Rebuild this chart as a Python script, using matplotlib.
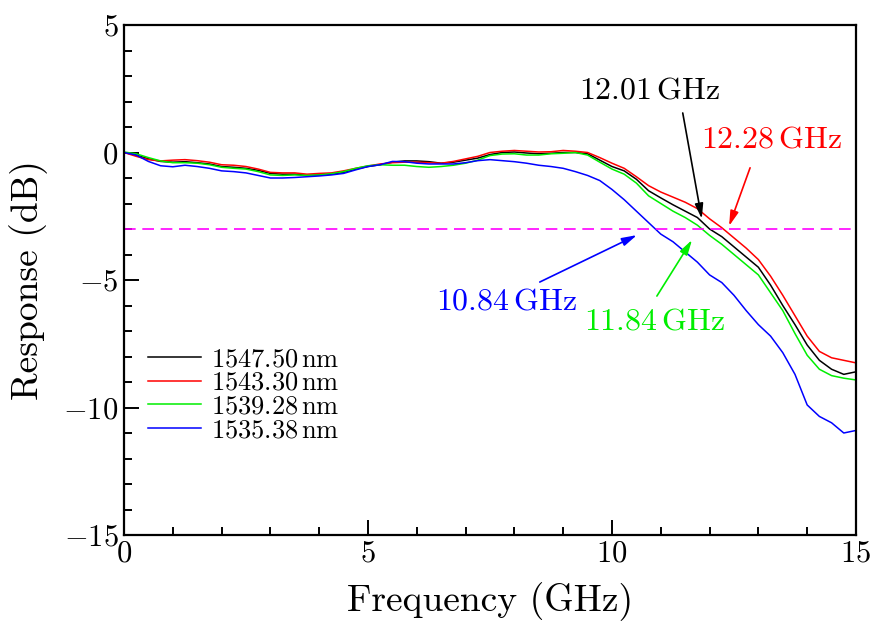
import numpy as np
import matplotlib
matplotlib.use("Agg")
from matplotlib import pyplot as plt
from matplotlib.ticker import MultipleLocator

plt.rcParams['font.family'] = 'serif'
plt.rcParams['font.serif'] = ['cmr10']
plt.rcParams['mathtext.fontset'] = 'cm'
plt.rcParams['axes.formatter.use_mathtext'] = True

# frequency grid (GHz)
freq = np.arange(0, 15.01, 0.25)

resp_1547 = [0.0, -0.1, -0.25, -0.35, -0.38, -0.36, -0.4, -0.45, -0.55, -0.58,
             -0.62, -0.7, -0.82, -0.85, -0.85, -0.9, -0.88, -0.85, -0.78, -0.65,
             -0.55, -0.48, -0.38, -0.33, -0.33, -0.36, -0.42, -0.38, -0.3, -0.22,
             -0.08, 0.0, 0.02, -0.02, -0.05, -0.03, 0.0, 0.0, -0.05, -0.3,
             -0.55, -0.72, -1.05, -1.5, -1.78, -2.05, -2.3, -2.55, -3.0, -3.3,
             -3.7, -4.1, -4.5, -5.2, -6.0, -6.75, -7.55, -8.15, -8.5, -8.7, -8.6]
resp_1543 = [0.0, -0.15, -0.28, -0.33, -0.3, -0.28, -0.32, -0.38, -0.48, -0.5,
             -0.55, -0.65, -0.78, -0.8, -0.8, -0.85, -0.82, -0.8, -0.72, -0.62,
             -0.53, -0.45, -0.4, -0.38, -0.38, -0.4, -0.42, -0.35, -0.25, -0.15,
             0.0, 0.05, 0.08, 0.05, 0.02, 0.03, 0.08, 0.05, 0.0, -0.2,
             -0.42, -0.62, -0.95, -1.3, -1.55, -1.75, -1.95, -2.2, -2.6, -2.95,
             -3.35, -3.75, -4.2, -4.85, -5.6, -6.4, -7.2, -7.8, -8.05, -8.15, -8.25]
resp_1539 = [0.02, -0.05, -0.2, -0.33, -0.4, -0.4, -0.42, -0.48, -0.58, -0.62,
             -0.65, -0.75, -0.88, -0.9, -0.88, -0.9, -0.88, -0.83, -0.75, -0.62,
             -0.52, -0.48, -0.5, -0.5, -0.55, -0.58, -0.55, -0.5, -0.42, -0.3,
             -0.12, -0.06, -0.05, -0.1, -0.1, -0.05, -0.03, 0.0, -0.1, -0.38,
             -0.65, -0.85, -1.2, -1.7, -2.0, -2.3, -2.55, -2.85, -3.25, -3.6,
             -4.0, -4.4, -4.8, -5.5, -6.2, -7.1, -7.95, -8.5, -8.75, -8.85, -8.92]
resp_1535 = [0.0, -0.1, -0.35, -0.52, -0.56, -0.5, -0.55, -0.62, -0.72, -0.75,
             -0.8, -0.9, -1.0, -1.0, -0.98, -0.95, -0.92, -0.88, -0.82, -0.68,
             -0.55, -0.48, -0.35, -0.36, -0.42, -0.45, -0.45, -0.45, -0.4, -0.32,
             -0.28, -0.32, -0.36, -0.42, -0.5, -0.55, -0.62, -0.75, -0.9, -1.1,
             -1.45, -1.85, -2.3, -2.75, -3.2, -3.5, -3.9, -4.3, -4.8, -5.1,
             -5.6, -6.2, -6.75, -7.2, -7.85, -8.7, -9.9, -10.35, -10.6, -11.0, -10.9]

labels = ['1547.50', '1543.30', '1539.28', '1535.38']
colors = ['black', '#ff0000', '#00ee00', '#0000ff']
series = [resp_1547, resp_1543, resp_1539, resp_1535]

# annotations: text, text pos, arrow tail, arrow head
notes = [
    ('12.01', (10.78, 2.41), (11.45, 1.55), (11.84, -2.6), 'black'),
    ('12.28', (13.28, 0.49), (12.83, -0.6), (12.4, -2.88), '#ff0000'),
    ('10.84', (7.85, -5.85), (8.52, -5.08), (10.51, -3.24), '#0000ff'),
    ('11.84', (10.88, -6.65), (10.92, -5.63), (11.64, -3.43), '#00ee00'),
]

fig = plt.figure(figsize=(8.8, 6.25), dpi=100)
ax = fig.add_axes([0.1409, 0.144, 0.8318, 0.816])

for vals, lab, c in zip(series, labels, colors):
    ax.plot(freq, vals, color=c, lw=1.1, label=r'$%s\,\mathrm{nm}$' % lab)

ax.axhline(-3, color='#ff00ff', lw=1.2, dashes=(7, 4))

for txt, tpos, tail, head, c in notes:
    ax.text(tpos[0], tpos[1], r'$%s\,\mathrm{GHz}$' % txt, color=c,
            fontsize=23, ha='center', va='center')
    ax.annotate('', xy=head, xytext=tail,
                arrowprops=dict(arrowstyle='-|>,head_length=0.9,head_width=0.25',
                                color=c, lw=1.2, shrinkA=0, shrinkB=0))

ax.set_xlim(0, 15)
ax.set_ylim(-15, 5)
ax.xaxis.set_major_locator(MultipleLocator(5))
ax.xaxis.set_minor_locator(MultipleLocator(1))
ax.yaxis.set_major_locator(MultipleLocator(5))
ax.yaxis.set_minor_locator(MultipleLocator(1))
ax.tick_params(which='both', direction='in', top=False, right=False,
               width=1.4, labelsize=22, pad=4)
ax.tick_params(which='major', length=11)
ax.tick_params(which='minor', length=6)
for s in ax.spines.values():
    s.set_linewidth(1.6)

ax.set_xlabel('Frequency (GHz)', fontsize=27, labelpad=10)
ax.set_ylabel('Response (dB)', fontsize=27, labelpad=11)

ax.legend(loc='lower left', bbox_to_anchor=(0.0, 0.135), frameon=False,
          fontsize=19, handlelength=2.0, labelspacing=0.0, handletextpad=0.4)

fig.savefig('out.png', dpi=100)
